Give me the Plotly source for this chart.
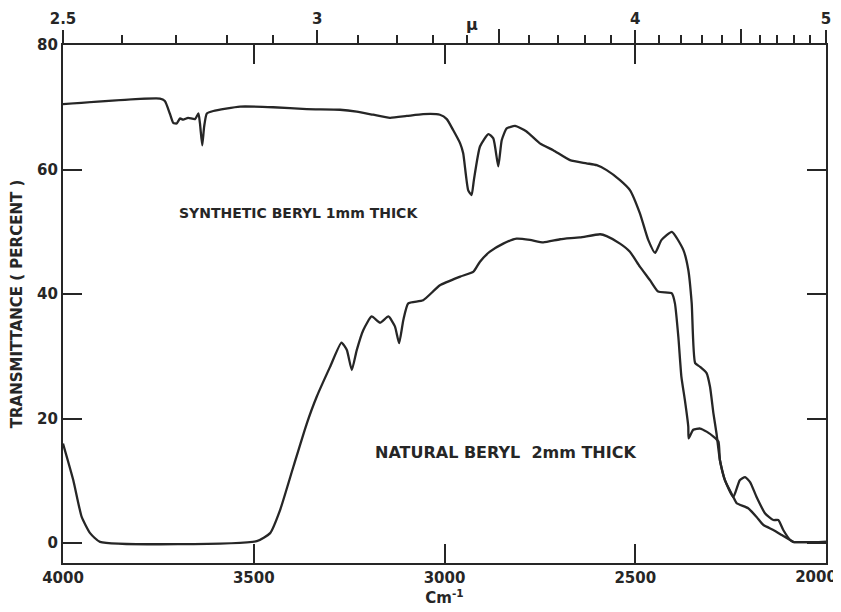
import plotly.graph_objects as go

# ---- data (wavenumber cm^-1, transmittance %) ----
synthetic_wn = [4000, 3746, 3733, 3720, 3711, 3702, 3693, 3685, 3672, 3654, 3645, 3641, 3635, 3630,
                3623, 3606, 3536, 3449, 3361, 3274, 3230, 3187, 3143, 3099, 3056, 3012, 2994, 2977,
                2959, 2951, 2938, 2929, 2923, 2907, 2885, 2872, 2859, 2850, 2837, 2815, 2785, 2750,
                2715, 2671, 2628, 2601, 2575, 2540, 2514, 2488, 2466, 2448, 2431, 2404, 2374, 2361,
                2352, 2343, 2330, 2313, 2304, 2295, 2287, 2278, 2265, 2243, 2226, 2212, 2199, 2182,
                2160, 2138, 2125, 2112, 2094, 2086, 2000]
synthetic_t = [70.5, 71.4, 71.0, 69.0, 67.5, 67.4, 68.2, 68.0, 68.3, 68.1, 69.0, 67.4, 63.9, 66.9,
               69.0, 69.4, 70.1, 70.0, 69.7, 69.6, 69.3, 68.8, 68.3, 68.6, 68.9, 68.8, 68.1, 66.3,
               64.2, 62.6, 56.7, 55.9, 58.3, 63.7, 65.7, 65.0, 60.5, 64.7, 66.6, 67.0, 66.1, 64.2,
               63.1, 61.5, 61.0, 60.7, 59.9, 58.3, 56.7, 53.0, 48.7, 46.6, 48.7, 50.0, 47.1, 43.9,
               38.5, 28.9, 28.3, 27.3, 25.1, 20.8, 17.6, 13.3, 10.1, 7.4, 10.1, 10.6, 9.8, 7.4,
               4.8, 3.7, 3.7, 2.1, 0.5, 0.2, 0.2]

natural_wn = [4000, 3973, 3951, 3929, 3903, 3492, 3457, 3431, 3396, 3361, 3335, 3300, 3270, 3256,
              3243, 3230, 3213, 3191, 3169, 3147, 3130, 3119, 3108, 3095, 3056, 3012, 2959, 2924,
              2907, 2881, 2846, 2811, 2776, 2741, 2697, 2645, 2592, 2575, 2540, 2514, 2488, 2461,
              2440, 2404, 2396, 2387, 2379, 2370, 2361, 2360, 2348, 2330, 2313, 2295, 2282, 2278,
              2265, 2243, 2234, 2204, 2182, 2164, 2138, 2116, 2094, 2086, 2000]
natural_t = [16.0, 10.1, 4.2, 1.6, 0.2, 0.3, 1.6, 5.3, 12.3, 19.2, 23.5, 28.3, 32.2, 31.0,
             27.8, 31.0, 34.2, 36.4, 35.4, 36.4, 34.8, 32.1, 35.8, 38.5, 39.0, 41.4, 42.8, 43.6,
             45.2, 46.8, 48.1, 48.9, 48.7, 48.3, 48.8, 49.1, 49.6, 49.3, 48.1, 46.8, 44.4, 42.2,
             40.4, 40.1, 38.5, 33.1, 26.7, 23.0, 18.7, 16.8, 18.2, 18.4, 17.9, 17.1, 16.3, 13.3,
             10.1, 7.4, 6.4, 5.6, 4.2, 2.9, 2.1, 1.3, 0.5, 0.2, 0.2]

x_ticks = [4000, 3500, 3000, 2500, 2000]
x_tick_labels = ["4000", "3500", "3000", "2500", ""]
x_edge_tick = [2000]
x_edge_label = ["2000"]
y_ticks = [0, 20, 40, 60, 80]
micron_labeled = [2.5, 3, 4, 5]
micron_labels = ["2.5", "3", "4", "5"]
micron_half = [3.5, 4.5]
micron_minor = [2.6, 2.7, 2.8, 2.9, 3.1, 3.2, 3.3, 3.4, 3.6, 3.7, 3.8, 3.9,
                4.1, 4.2, 4.3, 4.4, 4.6, 4.7, 4.8, 4.9]

INK = "#262626"
FONT = "DejaVu Sans"
XR = [4000, 2000]

fig = go.Figure()
line = dict(color=INK, width=2.3, shape="spline", smoothing=0.5)
fig.add_trace(go.Scatter(x=synthetic_wn, y=synthetic_t, mode="lines", line=line,
                         name="Synthetic beryl 1mm", showlegend=False, hoverinfo="skip"))
fig.add_trace(go.Scatter(x=natural_wn, y=natural_t, mode="lines", line=line,
                         name="Natural beryl 2mm", showlegend=False, hoverinfo="skip"))
# empty traces so the extra axes are drawn
for ax in ("x2", "x3", "x4", "x5"):
    fig.add_trace(go.Scatter(x=[], y=[], xaxis=ax, yaxis="y", showlegend=False))

tickfont = dict(family=FONT, size=15, color=INK, weight="bold")


def top_axis(vals, length, labels=None):
    d = dict(range=XR, overlaying="x", side="top", anchor="y", automargin=False,
             tickmode="array", tickvals=[10000 / m for m in vals],
             ticks="outside", ticklen=length, tickwidth=1.6, tickcolor=INK,
             showline=False, showgrid=False, zeroline=False)
    if labels is None:
        d["showticklabels"] = False
    else:
        d["ticktext"] = labels
        d["tickfont"] = tickfont
        d["ticklabeloverflow"] = "allow"
    return d


# page body has an 8px margin, so the figure is sized to end at the window edge
fig.update_layout(
    width=833, height=604,
    margin=dict(l=55, r=15, t=37, b=49),
    paper_bgcolor="white", plot_bgcolor="white",
    xaxis=dict(range=XR, tickmode="array", tickvals=x_ticks, ticktext=x_tick_labels,
               automargin=False, ticklabeloverflow="allow",
               ticks="inside", ticklen=19, tickwidth=1.6, tickcolor=INK,
               showline=True, linewidth=2.2, linecolor=INK, mirror="ticks",
               showgrid=False, zeroline=False, tickfont=tickfont,
               title=dict(text="Cm<sup>-1</sup>", standoff=4,
                          font=dict(family=FONT, size=15, color=INK, weight="bold"))),
    xaxis5=dict(range=XR, overlaying="x", side="bottom", anchor="y", automargin=False,
                tickmode="array", tickvals=x_edge_tick, ticktext=x_edge_label,
                ticks="", ticklabelshift=10, ticklabelstandoff=3, ticklabeloverflow="allow",
                showline=False, showgrid=False, zeroline=False, tickfont=tickfont),
    xaxis2=top_axis(micron_labeled, 14, micron_labels),
    xaxis3=top_axis(micron_half, 15),
    xaxis4=top_axis(micron_minor, 9),
    yaxis=dict(range=[-3.2, 80], tickmode="array", tickvals=y_ticks,
               automargin=False,
               ticks="inside", ticklen=19, tickwidth=1.6, tickcolor=INK,
               showline=True, linewidth=2.2, linecolor=INK, mirror="ticks",
               showgrid=False, zeroline=False, tickfont=tickfont,
               title=dict(text="TRANSMITTANCE ( PERCENT )", standoff=14,
                          font=dict(family=FONT, size=15, color=INK, weight="bold"))),
    annotations=[
        dict(text="μ", x=2928, xref="x", y=1.062, yref="paper", showarrow=False,
             font=dict(family=FONT, size=16, color=INK, weight="bold")),
        dict(text="SYNTHETIC BERYL 1mm THICK", x=3384, xref="x", y=53.0, yref="y",
             showarrow=False, font=dict(family=FONT, size=14, color=INK, weight="bold")),
        dict(text="NATURAL BERYL  2mm THICK", x=2841, xref="x", y=14.6, yref="y",
             showarrow=False, font=dict(family=FONT, size=16, color=INK, weight="bold")),
    ],
)

fig.write_html("out.html")
